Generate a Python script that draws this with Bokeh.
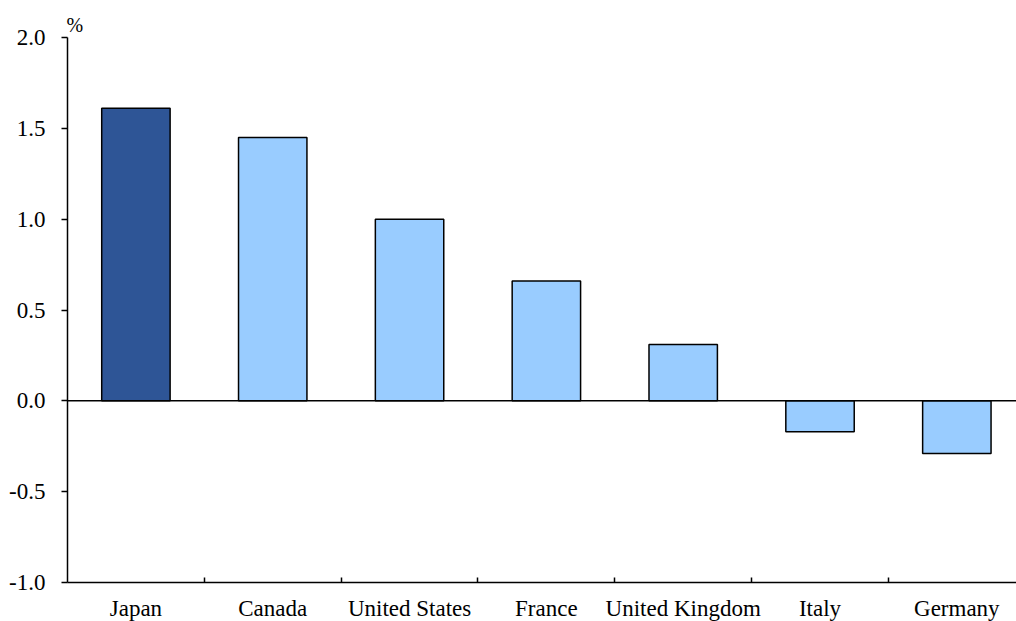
from bokeh.plotting import figure
from bokeh.models import Range1d, FixedTicker, Span, Title, ColumnDataSource
from bokeh.embed import file_html
from bokeh.resources import INLINE

countries = ["Japan", "Canada", "United States", "France", "United Kingdom", "Italy", "Germany"]
values = [1.61, 1.45, 1.00, 0.66, 0.31, -0.17, -0.29]
colors = ["#2E5596", "#99CCFF", "#99CCFF", "#99CCFF", "#99CCFF", "#99CCFF", "#99CCFF"]
y_ticks = [-1.0, -0.5, 0.0, 0.5, 1.0, 1.5, 2.0]

xs = [i + 0.5 for i in range(len(countries))]
src = ColumnDataSource(dict(x=xs, top=values, color=colors))

FONT = "Liberation Serif"
FS = "23px"

p = figure(frame_width=949, frame_height=545, output_backend="svg", toolbar_location=None,
           x_range=Range1d(0, 6.936), y_range=Range1d(-1.0, 2.0),
           min_border_left=67, min_border_top=37, min_border_right=0, min_border_bottom=40)
p.outline_line_color = None
p.xgrid.visible = False
p.ygrid.visible = False

p.vbar(x="x", top="top", bottom=0, width=0.5, fill_color="color", line_color="black",
       line_width=1.5, source=src)

p.add_layout(Span(location=0, dimension="width", line_color="black", line_width=1.5))

# y axis
p.yaxis.ticker = FixedTicker(ticks=y_ticks)
p.yaxis.major_label_overrides = {v: f"{v:.1f}" for v in y_ticks}
p.yaxis.major_tick_out = 6
p.yaxis.major_tick_in = 0
p.yaxis.minor_tick_out = 0
p.yaxis.minor_tick_in = 0
p.yaxis.axis_line_color = "black"
p.yaxis.axis_line_width = 1.5
p.yaxis.major_tick_line_width = 1.5
p.yaxis.major_label_text_font = FONT
p.yaxis.major_label_text_font_size = FS
p.yaxis.major_label_text_color = "black"
p.yaxis.major_label_standoff = 16

# x axis
p.xaxis.ticker = FixedTicker(ticks=xs, minor_ticks=[1, 2, 3, 4, 5, 6])
p.xaxis.major_label_overrides = {x: c for x, c in zip(xs, countries)}
p.xaxis.major_tick_out = 0
p.xaxis.major_tick_in = 0
p.xaxis.minor_tick_in = 5
p.xaxis.minor_tick_out = 0
p.xaxis.minor_tick_line_color = "black"
p.xaxis.minor_tick_line_width = 1.5
p.xaxis.axis_line_color = "black"
p.xaxis.axis_line_width = 1.5
p.xaxis.major_label_text_font = FONT
p.xaxis.major_label_text_font_size = FS
p.xaxis.major_label_text_color = "black"
p.xaxis.major_label_standoff = 13

p.add_layout(Title(text="%", align="left", offset=-1, text_font=FONT,
                   text_font_size="20px", text_font_style="normal", text_color="black",
                   standoff=4), "above")

open("out.html", "w").write(file_html(p, INLINE))
